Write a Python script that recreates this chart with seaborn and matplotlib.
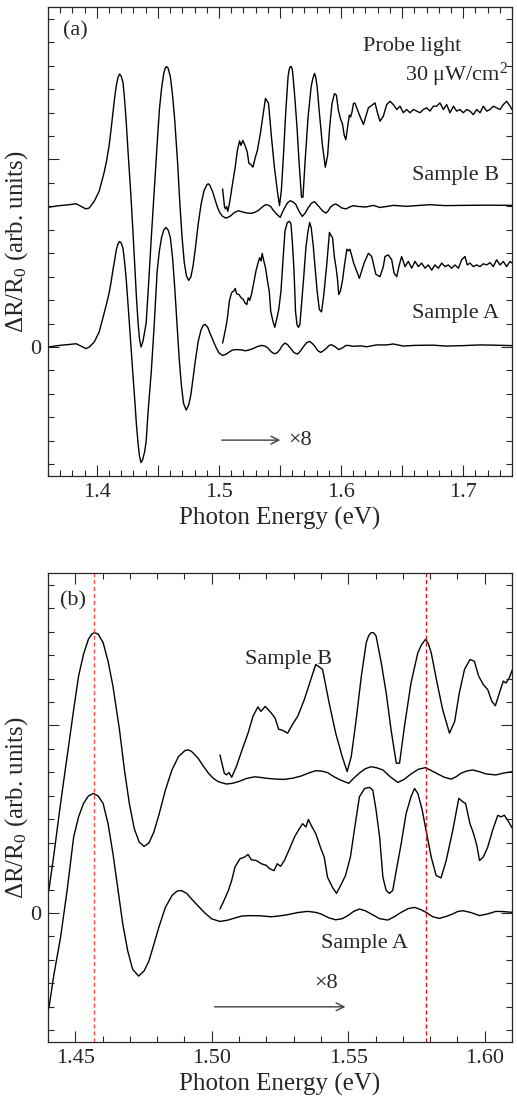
import pandas as pd
import seaborn as sns
import matplotlib.pyplot as plt
from matplotlib.ticker import MultipleLocator, FuncFormatter

# (photon energy eV, dR/R0 arb. units), relative to each sample's baseline
sample_a = [(1.3600, 0.00), (1.3695, 0.07), (1.3776, 0.11), (1.3830, 0.14), (1.3870, 0.04), (1.3911, -0.07),
            (1.3938, 0.00), (1.3978, 0.21), (1.4019, 0.64), (1.4059, 1.43), (1.4080, 1.85), (1.4100, 2.29),
            (1.4116, 2.75), (1.4132, 3.29), (1.4146, 3.71), (1.4159, 4.14), (1.4173, 4.40), (1.4186, 4.50),
            (1.4200, 4.43), (1.4214, 4.21), (1.4227, 3.64), (1.4241, 2.86), (1.4257, 1.71), (1.4276, 0.29),
            (1.4295, -1.14), (1.4311, -2.29), (1.4324, -3.29), (1.4338, -4.14), (1.4349, -4.64), (1.4362, -4.93),
            (1.4376, -4.79), (1.4392, -4.45), (1.4404, -4.00), (1.4422, -2.60), (1.4446, -1.04), (1.4470, 0.96),
            (1.4494, 3.24), (1.4512, 4.10), (1.4530, 4.67), (1.4548, 4.99), (1.4566, 5.10), (1.4584, 4.99),
            (1.4602, 4.67), (1.4620, 3.81), (1.4638, 2.53), (1.4656, 1.03), (1.4674, -0.47), (1.4692, -1.61),
            (1.4710, -2.40), (1.4732, -2.69), (1.4752, -2.47), (1.4770, -2.04), (1.4788, -1.33), (1.4806, -0.61),
            (1.4830, 0.24), (1.4854, 0.74), (1.4872, 0.93), (1.4888, 0.96), (1.4908, 0.84), (1.4926, 0.60),
            (1.4950, 0.30), (1.4975, 0.00), (1.5000, -0.25), (1.5030, -0.36), (1.5060, -0.30), (1.5085, -0.21),
            (1.5110, -0.13), (1.5139, -0.11), (1.5180, -0.12), (1.5218, -0.16), (1.5250, -0.12), (1.5278, -0.07),
            (1.5315, 0.02), (1.5351, 0.07), (1.5380, 0.03), (1.5400, -0.04), (1.5428, -0.20), (1.5454, -0.29),
            (1.5478, -0.24), (1.5500, -0.10), (1.5520, 0.07), (1.5541, 0.17), (1.5562, 0.10), (1.5584, -0.04),
            (1.5615, -0.24), (1.5645, -0.30), (1.5670, -0.15), (1.5694, 0.03), (1.5720, 0.19), (1.5743, 0.24),
            (1.5765, 0.15), (1.5785, 0.03), (1.5810, -0.16), (1.5834, -0.23), (1.5860, -0.14), (1.5883, -0.04),
            (1.5900, 0.06), (1.5920, 0.10), (1.5950, 0.02), (1.5981, -0.11), (1.6010, -0.04), (1.6041, 0.07),
            (1.6070, 0.06), (1.6102, 0.03), (1.6160, 0.05), (1.6210, 0.01), (1.6290, 0.09), (1.6374, 0.09),
            (1.6428, 0.13), (1.6510, 0.04), (1.6600, 0.07), (1.6750, 0.08), (1.6865, 0.04), (1.7000, 0.06),
            (1.7138, 0.09), (1.7250, 0.08), (1.7400, 0.06)]

sample_b = [(1.3600, 0.01), (1.3695, 0.08), (1.3776, 0.12), (1.3830, 0.16), (1.3870, 0.05), (1.3911, -0.06),
            (1.3938, -0.02), (1.3978, 0.26), (1.4019, 0.69), (1.4059, 1.48), (1.4080, 2.00), (1.4100, 2.62),
            (1.4116, 3.30), (1.4132, 4.05), (1.4146, 4.69), (1.4159, 5.19), (1.4173, 5.55), (1.4186, 5.69),
            (1.4200, 5.59), (1.4214, 5.34), (1.4227, 4.62), (1.4241, 3.62), (1.4257, 2.26), (1.4276, 0.76),
            (1.4295, -0.95), (1.4311, -2.52), (1.4324, -3.81), (1.4338, -4.95), (1.4349, -5.59), (1.4362, -5.95),
            (1.4376, -5.74), (1.4390, -5.35), (1.4404, -4.92), (1.4422, -3.42), (1.4446, -1.28), (1.4470, 0.72),
            (1.4494, 2.72), (1.4512, 4.15), (1.4530, 5.08), (1.4548, 5.72), (1.4560, 5.94), (1.4570, 6.01),
            (1.4584, 5.94), (1.4602, 5.58), (1.4620, 4.79), (1.4638, 3.72), (1.4662, 1.86), (1.4680, 0.15),
            (1.4698, -1.28), (1.4716, -2.35), (1.4734, -2.92), (1.4752, -3.11), (1.4770, -2.96), (1.4788, -2.49),
            (1.4806, -1.78), (1.4830, -0.71), (1.4854, 0.15), (1.4878, 0.72), (1.4902, 0.98), (1.4914, 1.01),
            (1.4926, 0.94), (1.4950, 0.65), (1.4970, 0.30), (1.4988, 0.01), (1.5005, -0.20), (1.5024, -0.35),
            (1.5054, -0.45), (1.5075, -0.42), (1.5097, -0.35), (1.5125, -0.22), (1.5157, -0.14), (1.5180, -0.17),
            (1.5206, -0.21), (1.5236, -0.24), (1.5266, -0.25), (1.5297, -0.20), (1.5327, -0.11), (1.5355, 0.02),
            (1.5381, 0.12), (1.5404, 0.10), (1.5424, 0.04), (1.5448, -0.14), (1.5472, -0.28), (1.5502, -0.42),
            (1.5520, -0.20), (1.5541, 0.02), (1.5562, 0.20), (1.5584, 0.29), (1.5605, 0.24), (1.5627, 0.15),
            (1.5655, -0.15), (1.5682, -0.38), (1.5705, -0.25), (1.5730, -0.02), (1.5757, 0.18), (1.5783, 0.25),
            (1.5805, 0.12), (1.5828, -0.02), (1.5852, -0.16), (1.5877, -0.24), (1.5895, -0.14), (1.5913, 0.01),
            (1.5935, 0.11), (1.5956, 0.15), (1.5980, 0.08), (1.6005, -0.02), (1.6041, -0.06), (1.6070, 0.02),
            (1.6102, 0.08), (1.6128, 0.05), (1.6200, 0.02), (1.6265, 0.09), (1.6319, 0.00), (1.6428, 0.09),
            (1.6537, 0.05), (1.6728, 0.12), (1.6850, 0.08), (1.7001, 0.09), (1.7200, 0.10), (1.7400, 0.09)]

# the x8 magnified traces (already scaled, relative to the sample baseline)
sample_a_x8 = [(1.5030, 0.17), (1.5042, 0.46), (1.5061, 0.96), (1.5073, 1.39), (1.5085, 1.96), (1.5103, 2.31),
               (1.5121, 2.39), (1.5133, 2.50), (1.5145, 2.27), (1.5163, 2.24), (1.5182, 2.10), (1.5200, 2.03),
               (1.5212, 1.89), (1.5228, 1.81), (1.5240, 2.10), (1.5252, 1.99), (1.5266, 2.24), (1.5285, 2.74),
               (1.5303, 3.24), (1.5321, 3.60), (1.5333, 3.81), (1.5345, 3.67), (1.5354, 3.99), (1.5366, 3.70),
               (1.5381, 3.39), (1.5400, 2.74), (1.5412, 2.39), (1.5424, 1.53), (1.5442, 1.10), (1.5457, 0.84),
               (1.5472, 1.17), (1.5490, 1.60), (1.5508, 2.39), (1.5525, 3.74), (1.5541, 4.96), (1.5560, 5.31),
               (1.5578, 5.36), (1.5590, 5.24), (1.5602, 4.39), (1.5615, 3.24), (1.5627, 1.53), (1.5639, 0.96),
               (1.5651, 0.84), (1.5663, 0.96), (1.5676, 1.81), (1.5694, 2.96), (1.5712, 4.24), (1.5730, 4.96),
               (1.5743, 5.31), (1.5755, 5.10), (1.5771, 4.39), (1.5785, 3.53), (1.5804, 2.39), (1.5822, 1.60),
               (1.5840, 1.50), (1.5859, 2.24), (1.5883, 3.53), (1.5905, 4.89), (1.5920, 4.74), (1.5930, 4.67),
               (1.5946, 3.81), (1.5959, 3.39), (1.5971, 2.89), (1.5981, 2.24), (1.5995, 2.39), (1.6011, 2.81),
               (1.6029, 3.53), (1.6048, 4.17), (1.6060, 4.10), (1.6072, 4.17), (1.6084, 3.96), (1.6102, 3.60),
               (1.6150, 2.93), (1.6190, 3.60), (1.6224, 4.00), (1.6251, 3.86), (1.6285, 3.10), (1.6319, 3.00),
               (1.6346, 3.43), (1.6360, 3.86), (1.6387, 3.93), (1.6415, 3.72), (1.6434, 3.15), (1.6456, 3.00),
               (1.6477, 3.50), (1.6496, 3.86), (1.6524, 3.43), (1.6551, 3.65), (1.6578, 3.36), (1.6606, 3.65),
               (1.6633, 3.43), (1.6660, 3.58), (1.6688, 3.36), (1.6715, 3.50), (1.6742, 3.28), (1.6769, 3.50),
               (1.6797, 3.36), (1.6824, 3.58), (1.6851, 3.43), (1.6879, 3.50), (1.6906, 3.36), (1.6933, 3.50),
               (1.6961, 3.36), (1.6988, 3.72), (1.7015, 3.86), (1.7034, 3.50), (1.7056, 3.58), (1.7083, 3.43),
               (1.7111, 3.50), (1.7138, 3.43), (1.7165, 3.55), (1.7193, 3.50), (1.7220, 3.60), (1.7247, 3.43),
               (1.7274, 3.72), (1.7302, 3.50), (1.7329, 3.65), (1.7356, 3.43), (1.7384, 3.65), (1.7400, 3.58)]

sample_b_x8 = [(1.5030, 0.79), (1.5046, 0.01), (1.5054, -0.06), (1.5063, 0.04), (1.5073, -0.16), (1.5090, 0.29),
               (1.5109, 0.94), (1.5133, 1.72), (1.5151, 2.44), (1.5169, 2.84), (1.5180, 2.65), (1.5196, 2.86),
               (1.5218, 2.58), (1.5232, 2.36), (1.5245, 1.89), (1.5260, 1.84), (1.5278, 1.72), (1.5297, 2.12),
               (1.5315, 2.44), (1.5339, 3.15), (1.5363, 4.01), (1.5381, 4.65), (1.5406, 4.44), (1.5430, 3.01),
               (1.5454, 1.72), (1.5478, 0.72), (1.5496, 0.08), (1.5511, 0.72), (1.5529, 2.29), (1.5548, 4.15),
               (1.5566, 5.58), (1.5575, 5.88), (1.5584, 6.01), (1.5593, 6.00), (1.5602, 5.86), (1.5621, 4.72),
               (1.5639, 3.44), (1.5657, 1.86), (1.5676, 0.44), (1.5688, 0.44), (1.5706, 2.01), (1.5730, 3.86),
               (1.5755, 5.15), (1.5768, 5.48), (1.5783, 5.72), (1.5793, 5.55), (1.5804, 5.15), (1.5823, 4.01),
               (1.5846, 2.72), (1.5871, 1.72), (1.5890, 2.22), (1.5907, 3.44), (1.5926, 4.44), (1.5946, 4.86),
               (1.5962, 4.79), (1.5978, 4.15), (1.5995, 3.79), (1.6011, 3.58), (1.6026, 3.08), (1.6039, 2.89),
               (1.6054, 3.44), (1.6068, 3.94), (1.6078, 3.86), (1.6090, 4.08), (1.6102, 4.44), (1.6114, 4.45),
               (1.6150, 3.95), (1.6183, 3.54), (1.6224, 4.25), (1.6278, 4.46), (1.6300, 4.00), (1.6319, 3.68),
               (1.6346, 3.89), (1.6374, 4.39), (1.6401, 4.53), (1.6428, 4.39), (1.6456, 4.18), (1.6483, 4.32),
               (1.6510, 4.04), (1.6537, 4.18), (1.6565, 4.04), (1.6592, 4.18), (1.6619, 4.11), (1.6647, 4.04),
               (1.6674, 4.18), (1.6701, 4.25), (1.6728, 4.11), (1.6756, 4.32), (1.6783, 4.32), (1.6810, 4.46),
               (1.6838, 4.18), (1.6865, 4.39), (1.6892, 4.04), (1.6920, 4.32), (1.6947, 4.11), (1.6974, 4.18),
               (1.7001, 4.04), (1.7029, 4.18), (1.7056, 4.11), (1.7083, 3.96), (1.7111, 4.18), (1.7138, 4.04),
               (1.7165, 4.32), (1.7193, 4.11), (1.7220, 4.18), (1.7247, 4.32), (1.7274, 4.25), (1.7302, 4.18),
               (1.7329, 4.39), (1.7356, 4.53), (1.7384, 4.32), (1.7400, 4.18)]

B_OFFSET = 5.95
peak_lines = [1.4567, 1.5785]

sns.set_style("ticks")
plt.rcParams['font.family'] = ['Liberation Serif', 'DejaVu Serif']
plt.rcParams['mathtext.fontset'] = 'custom'
plt.rcParams['mathtext.rm'] = 'Liberation Serif'
plt.rcParams['mathtext.it'] = 'Liberation Serif:italic'

curves = []
for data, off in [(sample_a, 0), (sample_b, B_OFFSET), (sample_a_x8, 0), (sample_b_x8, B_OFFSET)]:
    df = pd.DataFrame(data, columns=['E', 'dR'])
    df['y'] = df['dR'] + off
    curves.append(df)

fig = plt.figure(figsize=(5.17, 10.98), dpi=100)
ax_a = fig.add_axes([48/517, 1-476/1098, 464/517, 469/1098])
ax_b = fig.add_axes([48/517, 1-1042/1098, 464/517, 469/1098])

for ax in [ax_a, ax_b]:
    for df in curves:
        sns.lineplot(data=df, x='E', y='y', ax=ax, color='black', lw=1.0,
                     estimator=None, sort=False, legend=False)
    ax.set_ylim(-5.5, 14.5)
    ax.yaxis.set_major_locator(MultipleLocator(8))
    ax.yaxis.set_minor_locator(MultipleLocator(1))
    ax.yaxis.set_major_formatter(FuncFormatter(lambda v, p: '0' if abs(v) < 1e-9 else ''))
    ax.xaxis.set_major_locator(MultipleLocator(0.05))
    ax.xaxis.set_minor_locator(MultipleLocator(0.01))
    ax.tick_params(which='both', direction='in', top=True, right=True, width=0.8, labelsize=16, pad=5)
    ax.tick_params(which='major', length=8)
    ax.tick_params(which='minor', length=4.5)
    for s in ax.spines.values():
        s.set_linewidth(0.9)
    ax.set_xlabel('Photon Energy (eV)', fontsize=18)
    ax.set_ylabel('ΔR/R$_0$ (arb. units)', fontsize=18)
    ax.yaxis.set_label_coords(-0.038, 0.5)
    ax.xaxis.set_label_coords(0.5, -0.065)

# panel (a)
ax_a.set_xlim(1.36, 1.74)
ax_a.xaxis.set_major_formatter(FuncFormatter(lambda v, p: f'{v:.1f}' if abs(v*10 - round(v*10)) < 1e-6 else ''))
ax_a.text(1.3725, 13.5, '(a)', fontsize=16, ha='left', va='center')
ax_a.text(1.658, 12.8, 'Probe light', fontsize=16, ha='center', va='center')
ax_a.text(1.737, 11.6, '30 μW/cm$^2$', fontsize=16, ha='right', va='center')
ax_a.text(1.694, 7.3, 'Sample B', fontsize=16, ha='center', va='center')
ax_a.text(1.694, 1.45, 'Sample A', fontsize=16, ha='center', va='center')
ax_a.annotate('', xy=(1.5525, -3.97), xytext=(1.50, -3.97),
              arrowprops=dict(arrowstyle='->', color='#404040', lw=1.0, mutation_scale=14))
ax_a.text(1.5566, -3.97, '×8', fontsize=16, ha='left', va='center')

# panel (b)
ax_b.set_xlim(1.44, 1.61)
ax_b.xaxis.set_major_formatter(FuncFormatter(lambda v, p: f'{v:.2f}'))
for xv, c in zip(peak_lines, ['#ff4a4a', '#dd1515']):
    ax_b.axvline(xv, color=c, lw=1.0, ls=(0, (3, 2)))
ax_b.text(1.4444, 13.3, '(b)', fontsize=16, ha='left', va='center')
ax_b.text(1.528, 10.8, 'Sample B', fontsize=16, ha='center', va='center')
ax_b.text(1.556, -1.3, 'Sample A', fontsize=16, ha='center', va='center')
ax_b.annotate('', xy=(1.55, -4.0), xytext=(1.50, -4.0),
              arrowprops=dict(arrowstyle='->', color='#404040', lw=1.0, mutation_scale=14))
ax_b.text(1.542, -3.0, '×8', fontsize=16, ha='center', va='center')

fig.savefig('out.png', dpi=100)
